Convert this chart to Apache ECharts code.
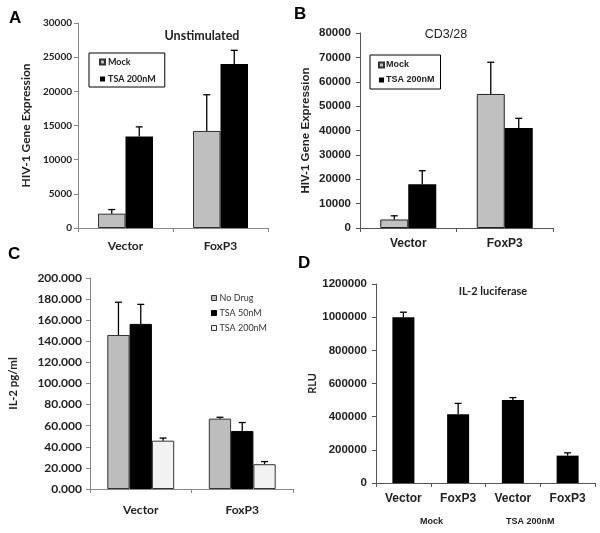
<!DOCTYPE html>
<html><head><meta charset="utf-8">
<script src="https://cdn.jsdelivr.net/npm/echarts@6.0.0/dist/echarts.min.js"></script>
<style>html,body{margin:0;padding:0;background:#fff}#c{width:600px;height:533px}</style>
</head><body><div id="c"></div>
<script>
// ---- Panel A: Unstimulated ----
const aCats = ['Vector', 'FoxP3'];
const aMock = [2100, 14200];
const aMockErr = [2700, 19500];
const aTsa = [13400, 24000];
const aTsaErr = [14800, 26000];
// ---- Panel B: CD3/28 ----
const bCats = ['Vector', 'FoxP3'];
const bMock = [3500, 55000];
const bMockErr = [5000, 68000];
const bTsa = [18000, 41000];
const bTsaErr = [23500, 45000];
// ---- Panel C: IL-2 pg/ml ----
const cCats = ['Vector', 'FoxP3'];
const cNoDrug = [146, 66.7];
const cNoDrugErr = [177, 68];
const cTsa50 = [156.5, 55];
const cTsa50Err = [175, 63];
const cTsa200 = [45.8, 23.5];
const cTsa200Err = [48.3, 26];
// ---- Panel D: IL-2 luciferase ----
const dCats = ['Vector', 'FoxP3', 'Vector', 'FoxP3'];
const dGroups = ['Mock', 'TSA 200nM'];
const dVals = [1000000, 415000, 500000, 165000];
const dErr = [1030000, 480000, 515000, 182000];

const CAL = 'Lato';
const ARI = 'Liberation Sans';
const plain = v => String(v);

function errSeries(gi, vals, errs, idx, n, bw, cap) {
  return {
    type: 'custom', xAxisIndex: gi, yAxisIndex: gi, z: 5, silent: true,
    data: vals.map((v, i) => [i, v, errs[i]]),
    renderItem(params, api) {
      const i = api.value(0);
      const p0 = api.coord([i, api.value(1)]);
      const p1 = api.coord([i, api.value(2)]);
      const x = p0[0] + (idx - (n - 1) / 2) * bw;
      const st = { stroke: '#000', lineWidth: 1.3 };
      return { type: 'group', children: [
        { type: 'line', shape: { x1: x, y1: p0[1], x2: x, y2: p1[1] }, style: st },
        { type: 'line', shape: { x1: x - cap, y1: p1[1], x2: x + cap, y2: p1[1] }, style: st }
      ]};
    }
  };
}
function barSeries(gi, name, vals, color, bw, border) {
  return {
    type: 'bar', name, xAxisIndex: gi, yAxisIndex: gi, data: vals,
    barWidth: bw, barGap: '0%',
    itemStyle: { color, borderColor: border || color, borderWidth: border ? 1 : 0 }
  };
}
function xAx(gi, cats, font, size, margin, lineColor) {
  return {
    type: 'category', gridIndex: gi, data: cats,
    axisLine: { lineStyle: { color: lineColor, width: 1 } },
    axisTick: { show: true, length: 4, lineStyle: { color: lineColor } },
    axisLabel: { fontFamily: font, fontWeight: 'bold', fontSize: size, color: '#222', margin, interval: 0 }
  };
}
function yAx(gi, max, interval, font, size, margin, lineColor, name, nameFont, nameSize, nameGap, fmt) {
  return {
    type: 'value', gridIndex: gi, min: 0, max, interval,
    name, nameLocation: 'middle', nameGap, nameRotate: 90,
    nameTextStyle: { fontFamily: nameFont, fontWeight: 'bold', fontSize: nameSize, color: '#222' },
    splitLine: { show: false },
    axisLine: { show: true, lineStyle: { color: lineColor, width: 1 } },
    axisTick: { show: true, length: 4, lineStyle: { color: lineColor } },
    axisLabel: { fontFamily: font, fontWeight: 'bold', fontSize: size, color: '#222', margin, formatter: fmt }
  };
}

const option = {
  animation: false,
  backgroundColor: '#fff',
  title: [
    { text: 'Unstimulated', left: 197, top: 24, textAlign: 'center',
      textStyle: { fontFamily: CAL, fontWeight: 'bold', fontSize: 12.5, color: '#222' } },
    { text: 'CD3/28', left: 441, top: 23, textAlign: 'center',
      textStyle: { fontFamily: ARI, fontWeight: 'normal', fontSize: 12.5, color: '#222' } },
    { text: 'IL-2 luciferase', left: 488, top: 281, textAlign: 'center',
      textStyle: { fontFamily: CAL, fontWeight: 'bold', fontSize: 11, color: '#222' } }
  ],
  legend: [
    { data: [{ name: 'Mock', icon: 'rect' }, { name: 'TSA 200nM', icon: 'rect' }],
      orient: 'vertical', left: 89, top: 53, selectedMode: false,
      borderColor: '#000', borderWidth: 1, padding: [4, 9, 3, 10], itemGap: 7,
      itemWidth: 5, itemHeight: 5,
      textStyle: { fontFamily: CAL, fontWeight: 'bold', fontSize: 9, color: '#222', lineHeight: 10, padding: [0, 0, 0, -2] } },
    { data: [{ name: 'Mock', icon: 'rect' }, { name: 'TSA 200nM', icon: 'rect' }],
      orient: 'vertical', left: 370, top: 55, selectedMode: false,
      borderColor: '#000', borderWidth: 1, padding: [5, 6, 4, 8], itemGap: 5,
      itemWidth: 5, itemHeight: 5,
      textStyle: { fontFamily: ARI, fontWeight: 'bold', fontSize: 9, color: '#222', lineHeight: 10, padding: [0, 0, 0, -3] } },
    { data: [
        { name: 'No Drug', icon: 'rect', itemStyle: { color: '#bdbdbd', borderColor: '#333', borderWidth: 1 } },
        { name: 'TSA 50nM', icon: 'rect', itemStyle: { color: '#000', borderColor: '#000', borderWidth: 1 } },
        { name: 'TSA 200nM', icon: 'rect', itemStyle: { color: '#f2f2f2', borderColor: '#333', borderWidth: 1 } }
      ],
      orient: 'vertical', left: 206, top: 288, selectedMode: false, itemGap: 5,
      itemWidth: 5, itemHeight: 5,
      textStyle: { fontFamily: CAL, fontWeight: 'normal', fontSize: 9, color: '#333', lineHeight: 10, padding: [0, 0, 0, -2] } }
  ],
  grid: [
    { left: 78, top: 23, width: 190, height: 205 },
    { left: 360, top: 33, width: 193, height: 195 },
    { left: 90, top: 278, width: 203, height: 211 },
    { left: 376, top: 284, width: 219, height: 199 }
  ],
  xAxis: [
    xAx(0, aCats, CAL, 12, 12, '#888'),
    xAx(1, bCats, ARI, 12, 10, '#555'),
    xAx(2, cCats, CAL, 12, 15, '#888'),
    xAx(3, dCats, ARI, 12, 10, '#555')
  ],
  yAxis: [
    yAx(0, 30000, 5000, CAL, 10, 6, '#888', 'HIV-1 Gene Expression', CAL, 12, 46, plain),
    yAx(1, 80000, 10000, ARI, 11.5, 9, '#555', 'HIV-1 Gene Expression', ARI, 11.5, 48, plain),
    yAx(2, 200, 20, CAL, 12, 8, '#888', 'IL-2 pg/ml', CAL, 11.5, 71, v => v.toFixed(3)),
    yAx(3, 1200000, 200000, ARI, 11.5, 9, '#555', 'RLU', CAL, 11, 56, plain)
  ],
  graphic: [
    { type: 'text', left: 9, top: 10, style: { text: 'A', font: 'bold 17px "Liberation Sans"', fill: '#000' } },
    { type: 'text', left: 294, top: 6, style: { text: 'B', font: 'bold 17px "Liberation Sans"', fill: '#000' } },
    { type: 'text', left: 8, top: 246, style: { text: 'C', font: 'bold 17px "Liberation Sans"', fill: '#000' } },
    { type: 'text', left: 298, top: 255, style: { text: 'D', font: 'bold 17px "Liberation Sans"', fill: '#000' } },
    { type: 'text', left: 420, top: 517, style: { text: dGroups[0], font: 'bold 9px "Liberation Sans"', fill: '#222' } },
    { type: 'text', left: 506, top: 517, style: { text: dGroups[1], font: 'bold 9px "Liberation Sans"', fill: '#222' } }
  ],
  series: [
    barSeries(0, 'Mock', aMock, '#bfbfbf', 27.5, '#333'),
    barSeries(0, 'TSA 200nM', aTsa, '#000', 27.5),
    errSeries(0, aMock, aMockErr, 0, 2, 27.5, 3.5),
    errSeries(0, aTsa, aTsaErr, 1, 2, 27.5, 3.5),
    barSeries(1, 'Mock', bMock, '#c0c0c0', 28, '#222'),
    barSeries(1, 'TSA 200nM', bTsa, '#000', 28),
    errSeries(1, bMock, bMockErr, 0, 2, 28, 3.5),
    errSeries(1, bTsa, bTsaErr, 1, 2, 28, 3.5),
    barSeries(2, 'No Drug', cNoDrug, '#bdbdbd', 22.3, '#333'),
    barSeries(2, 'TSA 50nM', cTsa50, '#000', 22.3, '#000'),
    barSeries(2, 'TSA 200nM', cTsa200, '#f2f2f2', 22.3, '#333'),
    errSeries(2, cNoDrug, cNoDrugErr, 0, 3, 22.3, 3.5),
    errSeries(2, cTsa50, cTsa50Err, 1, 3, 22.3, 3.5),
    errSeries(2, cTsa200, cTsa200Err, 2, 3, 22.3, 3.5),
    barSeries(3, 'RLU', dVals, '#000', 22),
    errSeries(3, dVals, dErr, 0, 1, 22, 3.5)
  ]
};
const chart = echarts.init(document.getElementById('c'), null, { renderer: 'canvas' });
chart.setOption(option);
</script>
</body></html>
